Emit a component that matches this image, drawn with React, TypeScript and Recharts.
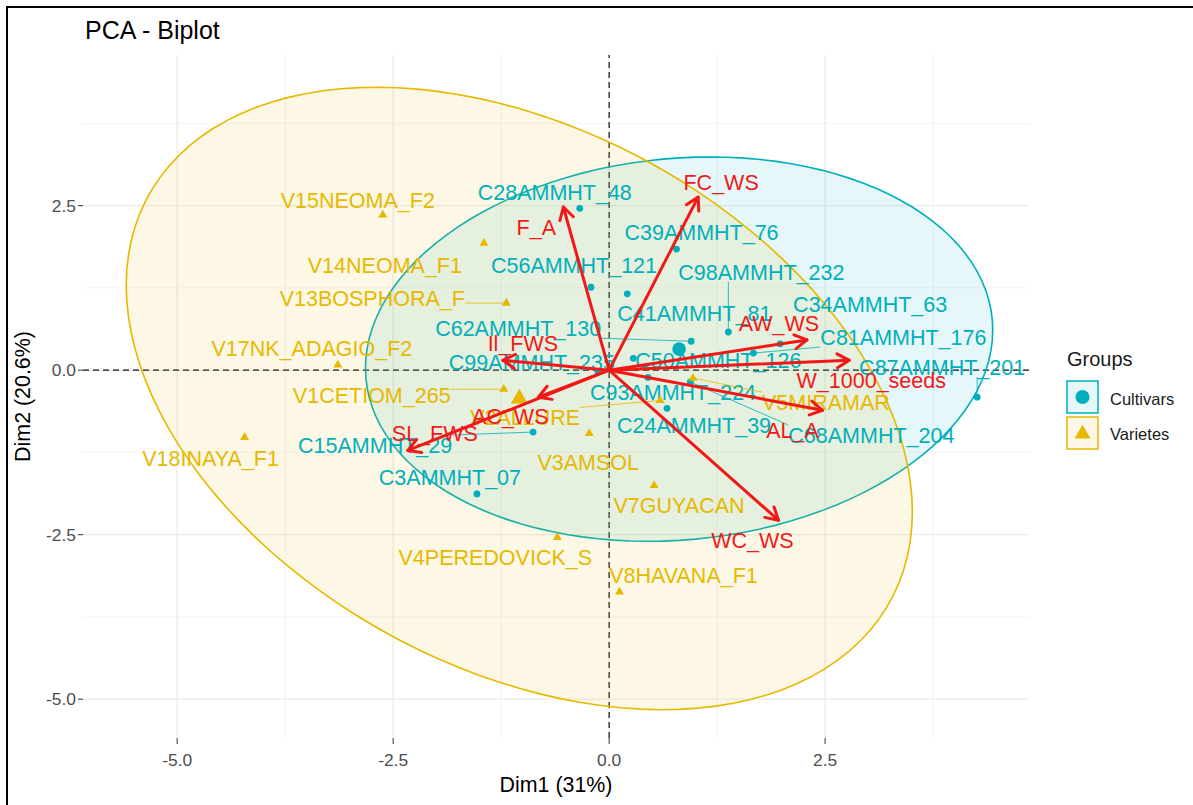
import React from 'react';
import { ScatterChart, Scatter, XAxis, YAxis, CartesianGrid, ReferenceLine } from 'recharts';

const TEAL = '#00AFBB';
const GOLD = '#E7B800';
const RED = '#F21818';
const FONT = '"Liberation Sans", Arial, Helvetica, sans-serif';
const LABEL_SIZE = 21.5;

// Individuals: Cultivars
const cultivarNames = [
  'C28AMMHT_48', 'C39AMMHT_76', 'C56AMMHT_121', 'C41AMMHT_81', 'C98AMMHT_232', 'C34AMMHT_63',
  'C62AMMHT_130', 'C81AMMHT_176', 'C99AMMHT_235', 'C50AMMHT_126', 'C87AMMHT_201', 'C93AMMHT_224',
  'C24AMMHT_39', 'C68AMMHT_204', 'C15AMMHT_29', 'C3AMMHT_07',
];
const cultivarDim1 = [-0.34, 0.78, -0.21, 0.21, 1.38, 1.98, 0.95, 1.67, -0.13, 0.28, 4.26, 0.45, 0.67, 0.94, -0.88, -1.53];
const cultivarDim2 = [2.46, 1.84, 1.26, 1.16, 0.58, 0.40, 0.44, 0.26, -0.02, 0.18, -0.41, -0.11, -0.58, -0.18, -0.94, -1.88];

// Individuals: Varietes
const varieteNames = [
  'V15NEOMA_F2', 'V14NEOMA_F1', 'V13BOSPHORA_F', 'V17NK_ADAGIO_F2', 'V1CETIOM_265', 'V18INAYA_F1',
  'V2ALLURE', 'V5MIRAMAR', 'V3AMSOL', 'V7GUYACAN', 'V4PEREDOVICK_S', 'V8HAVANA_F1',
];
const varieteDim1 = [-2.62, -1.45, -1.19, -3.14, -1.22, -4.22, 0.59, 0.97, -0.23, 0.52, -0.6, 0.12];
const varieteDim2 = [2.36, 1.93, 1.02, 0.08, -0.29, -1.02, -0.46, -0.12, -0.96, -1.75, -2.54, -3.37];

// group centres
const groupNames = ['Cultivars', 'Varietes'];
const groupMeanDim1 = [0.81, -1.04];
const groupMeanDim2 = [0.32, -0.43];
// concentration ellipse covariance per group: [sxx, sxy, syy]
const groupCov = [
  [13.18, 1.05, 8.53],
  [20.7, -7.83, 22.37],
];

// Variables (arrows)
const variableNames = ['FC_WS', 'F_A', 'AW_WS', 'W_1000_seeds', 'AL_A', 'WC_WS', 'SL_FWS', 'AC_WS', 'Il_FWS'];
const variableDim1 = [1.03, -0.53, 2.29, 2.78, 2.47, 1.96, -2.33, -0.82, -1.23];
const variableDim2 = [2.63, 2.48, 0.46, 0.15, -0.61, -2.28, -1.22, -0.41, 0.15];

const majorTicks = [-5, -2.5, 0, 2.5];
const minorTicks = [-3.75, -1.25, 1.25, 3.75];

// repelled label offsets in px (label centre relative to its point)
const labelNudge: Record<string, [number, number]> = {
  C28AMMHT_48: [-25, -16], C39AMMHT_76: [25, -17], C56AMMHT_121: [-17, -22], C41AMMHT_81: [67, 19],
  C98AMMHT_232: [33, -60], C34AMMHT_63: [90, -40], C62AMMHT_130: [-173, -13], C81AMMHT_176: [150, -16],
  C99AMMHT_235: [-66, -9], C50AMMHT_126: [85, 2], C87AMMHT_201: [-35, -30], C93AMMHT_224: [25, 15],
  C24AMMHT_39: [27, 17], C68AMMHT_204: [181, 53], C15AMMHT_29: [-158, 13], C3AMMHT_07: [-27, -17],
  V15NEOMA_F2: [-25, -15], V14NEOMA_F1: [-99, 22], V13BOSPHORA_F: [-134, -5], V17NK_ADAGIO_F2: [-26, -17],
  V1CETIOM_265: [-132, 6], V18INAYA_F1: [-34, 21], V2ALLURE: [-135, 17], V5MIRAMAR: [133, 24],
  V3AMSOL: [-1, 29], V7GUYACAN: [25, 20], V4PEREDOVICK_S: [-62, 20], V8HAVANA_F1: [64, -17],
  FC_WS: [23, -15], F_A: [-27, 20], AW_WS: [-28, -17], W_1000_seeds: [22, 20], AL_A: [-30, 20],
  WC_WS: [-26, 20], SL_FWS: [27, -17], AC_WS: [-28, 19], Il_FWS: [20, -17],
};
const withSegment = new Set([
  'C98AMMHT_232', 'C62AMMHT_130', 'C81AMMHT_176', 'C87AMMHT_201', 'C68AMMHT_204', 'C15AMMHT_29',
  'V13BOSPHORA_F', 'V1CETIOM_265', 'V2ALLURE', 'V5MIRAMAR',
]);

const cultivars = cultivarNames.map((name, i) => ({ name, x: cultivarDim1[i], y: cultivarDim2[i] }));
const varietes = varieteNames.map((name, i) => ({ name, x: varieteDim1[i], y: varieteDim2[i] }));
const means = groupNames.map((name, i) => ({ name, x: groupMeanDim1[i], y: groupMeanDim2[i] }));
const arrowData = variableNames.flatMap((name, i) => [
  { name: '', x: 0, y: 0 },
  { name, x: variableDim1[i], y: variableDim2[i] },
]);
const arrowHeads = variableNames.map((name, i) => ({ name, x: variableDim1[i], y: variableDim2[i] }));

// outline of a group's ellipse from its centre and covariance
const ellipseOutline = (g: number) => {
  const [sxx, sxy, syy] = groupCov[g];
  const l11 = Math.sqrt(sxx);
  const l21 = sxy / l11;
  const l22 = Math.sqrt(syy - l21 * l21);
  return Array.from({ length: 121 }, (_, k) => {
    const t = (2 * Math.PI * k) / 120;
    return { x: groupMeanDim1[g] + l11 * Math.cos(t), y: groupMeanDim2[g] + l21 * Math.cos(t) + l22 * Math.sin(t) };
  });
};

let measureCtx: CanvasRenderingContext2D | null = null;
const textWidth = (s: string) => {
  if (!measureCtx) measureCtx = document.createElement('canvas').getContext('2d');
  if (!measureCtx) return s.length * LABEL_SIZE * 0.62;
  measureCtx.font = `${LABEL_SIZE}px ${FONT}`;
  return measureCtx.measureText(s).width;
};

const triangle = (cx: number, cy: number, s: number) =>
  `${cx},${cy - s * 0.577} ${cx - s / 2},${cy + s * 0.289} ${cx + s / 2},${cy + s * 0.289}`;

const polygonFill = (color: string) => (props: any) => {
  const pts: { x: number; y: number }[] = props.points || [];
  const d = pts.map((p, i) => `${i ? 'L' : 'M'}${p.x},${p.y}`).join('') + 'Z';
  return <path d={d} fill={color} fillOpacity={0.1} stroke={color} strokeWidth={1.6} />;
};

const labelText = (name: string, x: number, y: number, color: string) => (
  <text x={x} y={y + LABEL_SIZE * 0.358} textAnchor="middle" fontSize={LABEL_SIZE} fontFamily={FONT} fill={color}>
    {name}
  </text>
);

const individualShape = (color: string, marker: 'circle' | 'triangle') => (props: any) => {
  const { cx, cy, payload } = props;
  const [dx, dy] = labelNudge[payload.name] ?? [0, 0];
  const lx = cx + dx;
  const ly = cy + dy;
  let segment = null;
  if (withSegment.has(payload.name)) {
    const w = textWidth(payload.name) / 2;
    const sx = Math.min(Math.max(cx, lx - w), lx + w);
    const sy = Math.min(Math.max(cy, ly - 10), ly + 10);
    segment = <line x1={sx} y1={sy} x2={cx} y2={cy} stroke={color} strokeWidth={0.8} />;
  }
  return (
    <g>
      {segment}
      {marker === 'circle' ? (
        <circle cx={cx} cy={cy} r={3.4} fill={color} />
      ) : (
        <polygon points={triangle(cx, cy, 9)} fill={color} />
      )}
      {labelText(payload.name, lx, ly, color)}
    </g>
  );
};

const meanShape = (props: any) => {
  const { cx, cy, payload } = props;
  return payload.name === 'Cultivars' ? (
    <circle cx={cx} cy={cy} r={6.8} fill={TEAL} />
  ) : (
    <polygon points={triangle(cx, cy, 17)} fill={GOLD} />
  );
};

const arrowLines = (props: any) => {
  const pts: { x: number; y: number }[] = props.points || [];
  const out = [];
  for (let i = 0; i + 1 < pts.length; i += 2) {
    const a = pts[i];
    const b = pts[i + 1];
    const ang = Math.atan2(b.y - a.y, b.x - a.x);
    const len = 14;
    const spread = Math.PI / 6;
    const p1 = `${b.x - len * Math.cos(ang - spread)},${b.y - len * Math.sin(ang - spread)}`;
    const p2 = `${b.x - len * Math.cos(ang + spread)},${b.y - len * Math.sin(ang + spread)}`;
    out.push(
      <g key={i}>
        <line x1={a.x} y1={a.y} x2={b.x} y2={b.y} />
        <polyline points={`${p1} ${b.x},${b.y} ${p2}`} fill="none" />
      </g>,
    );
  }
  return (
    <g stroke={RED} strokeWidth={3} strokeLinecap="round" strokeLinejoin="round">
      {out}
    </g>
  );
};

const variableLabel = (props: any) => {
  const { cx, cy, payload } = props;
  const [dx, dy] = labelNudge[payload.name] ?? [0, 0];
  return labelText(payload.name, cx + dx, cy + dy, RED);
};

const noShape = () => <g />;
const fmt = (v: number) => v.toFixed(1);
const tickStyle = { fontSize: 17.4, fill: '#4D4D4D', fontFamily: FONT };

export default function App() {
  return (
    <div style={{ position: 'relative', width: 1193, height: 805, background: '#fff', fontFamily: FONT }}>
      <style>{'body{margin:0}'}</style>
      <ScatterChart width={1193} height={805} margin={{ top: 55, right: 164, bottom: 7, left: 8 }}>
        <CartesianGrid horizontalValues={minorTicks} verticalValues={minorTicks} stroke="#F0F0F0" strokeWidth={0.8} />
        <CartesianGrid horizontalValues={majorTicks} verticalValues={majorTicks} stroke="#EBEBEB" strokeWidth={1.3} />
        <XAxis
          type="number"
          dataKey="x"
          domain={[-6.09, 4.86]}
          allowDataOverflow
          ticks={majorTicks}
          tickFormatter={fmt}
          height={60}
          tick={tickStyle}
          tickSize={6}
          tickMargin={10}
          tickLine={{ stroke: '#333' }}
          axisLine={false}
          label={{
            content: (p: any) => {
              const vb = p.viewBox || { x: 83, y: 738, width: 946, height: 60 };
              return (
                <text x={vb.x + vb.width / 2} y={vb.y + vb.height - 6} textAnchor="middle" fontSize={21.4} fontFamily={FONT} fill="#000">
                  Dim1 (31%)
                </text>
              );
            },
          }}
        />
        <YAxis
          type="number"
          dataKey="y"
          domain={[-5.59, 4.79]}
          allowDataOverflow
          ticks={majorTicks}
          tickFormatter={fmt}
          width={75}
          tick={tickStyle}
          tickSize={5}
          tickMargin={2}
          tickLine={{ stroke: '#333' }}
          axisLine={false}
          label={{
            content: (p: any) => {
              const vb = p.viewBox || { x: 8, y: 55, width: 75, height: 683 };
              const x = vb.x + 22;
              const y = vb.y + vb.height / 2;
              return (
                <text x={x} y={y} transform={`rotate(-90 ${x} ${y})`} textAnchor="middle" fontSize={21.4} fontFamily={FONT} fill="#000">
                  Dim2 (20.6%)
                </text>
              );
            },
          }}
        />
        <Scatter data={ellipseOutline(0)} shape={noShape} line={polygonFill(TEAL)} isAnimationActive={false} />
        <Scatter data={ellipseOutline(1)} shape={noShape} line={polygonFill(GOLD)} isAnimationActive={false} />
        <ReferenceLine x={0} stroke="#111" strokeWidth={1.2} strokeDasharray="6 4" />
        <ReferenceLine y={0} stroke="#111" strokeWidth={1.2} strokeDasharray="6 4" />
        <Scatter data={cultivars} shape={individualShape(TEAL, 'circle')} isAnimationActive={false} />
        <Scatter data={varietes} shape={individualShape(GOLD, 'triangle')} isAnimationActive={false} />
        <Scatter data={means} shape={meanShape} isAnimationActive={false} />
        <Scatter data={arrowData} shape={noShape} line={arrowLines} isAnimationActive={false} />
        <Scatter data={arrowHeads} shape={variableLabel} isAnimationActive={false} />
      </ScatterChart>
      <svg width={1193} height={805} style={{ position: 'absolute', left: 0, top: 0, pointerEvents: 'none' }}>
        <line x1={6} y1={7} x2={1193} y2={7} stroke="#000" strokeWidth={2} />
        <line x1={7} y1={6} x2={7} y2={805} stroke="#000" strokeWidth={2} />
        <text x={85} y={39} fontSize={25} fontFamily={FONT} fill="#000">
          PCA - Biplot
        </text>
        <text x={1067} y={366} fontSize={20} fontFamily={FONT} fill="#1A1A1A">
          Groups
        </text>
        <rect x={1067} y={381} width={31} height={32} fill={TEAL} fillOpacity={0.1} stroke={TEAL} strokeWidth={1.5} />
        <circle cx={1082.5} cy={397} r={7} fill={TEAL} />
        <text x={1110} y={405} fontSize={16.5} fontFamily={FONT} fill="#1A1A1A">
          {groupNames[0]}
        </text>
        <rect x={1067} y={417} width={31} height={32} fill={GOLD} fillOpacity={0.1} stroke={GOLD} strokeWidth={1.5} />
        <polygon points={triangle(1082.5, 434, 16)} fill={GOLD} />
        <text x={1110} y={440} fontSize={16.5} fontFamily={FONT} fill="#1A1A1A">
          {groupNames[1]}
        </text>
      </svg>
    </div>
  );
}
